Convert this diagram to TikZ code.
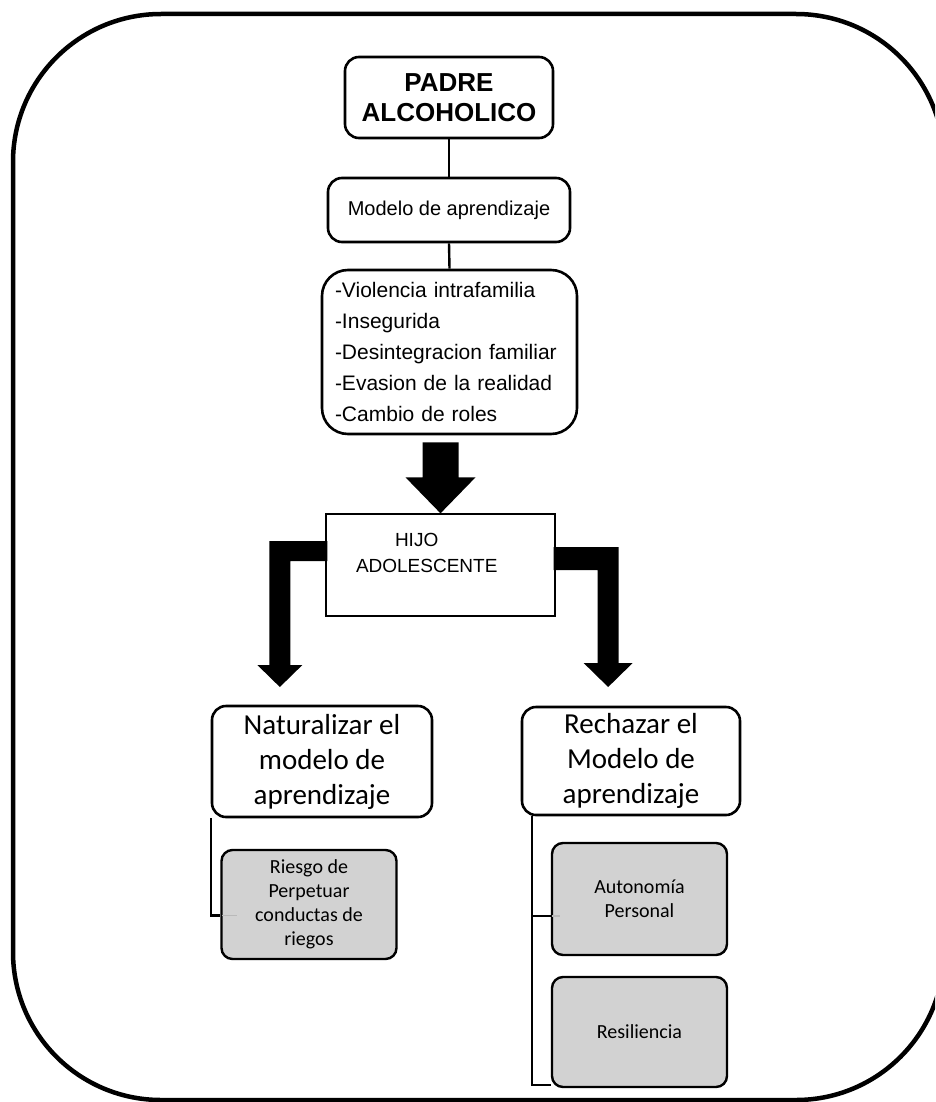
\documentclass[tikz,border=0pt]{standalone}
\usepackage{fontspec}
\setmainfont{Liberation Sans}
\newfontfamily\calibri{Carlito}
\usetikzlibrary{calc}
\begin{document}
\begin{tikzpicture}[x=1pt,y=-1pt,
  wbox/.style={draw, line width=2.6pt, rounded corners=14pt, fill=white, align=center, inner sep=0pt},
  gbox/.style={draw, line width=2.4pt, rounded corners=11pt, fill=gray!35, align=center, inner sep=0pt,
    minimum width=175pt, font=\calibri\fontsize{20}{24}\selectfont},
  conn/.style={line width=2.4pt},
  graylink/.style={line width=1.6pt, color=gray!55},
  blockarrow/.style={fill=black, draw=none}
]
\useasboundingbox (0,0) rectangle (935,1102);
\begin{scope}
  \clip (0,0) rectangle (935,1102);
  \draw[line width=4.5pt, rounded corners=148pt] (13,14) rectangle (944,1100);
\end{scope}

\node[wbox, minimum width=208pt, minimum height=81pt,
  font=\bfseries\fontsize{26}{30}\selectfont] (padre) at (449,97.5) {PADRE\\ALCOHOLICO};
\node[wbox, minimum width=242pt, minimum height=64pt,
  font=\fontsize{20}{24}\selectfont] (modelo) at (449,210) {Modelo de aprendizaje};
\node[wbox, rounded corners=26pt, minimum width=255pt, minimum height=164pt, align=left,
  text width=229pt, inner xsep=13pt, font=\fontsize{21}{31}\selectfont] (lista) at (449.5,352)
  {-Violencia intrafamilia\\-Insegurida\\-Desintegracion familiar\\-Evasion de la realidad\\-Cambio de roles};
\node[draw, line width=1.3pt, inner sep=0pt, minimum width=229pt, minimum height=102pt,
  font=\fontsize{19}{26}\selectfont] (hijo) at (440.5,565)
  {\parbox[c][102pt][t]{229pt}{\hspace*{69pt}\rule{0pt}{32pt}HIJO\\\hspace*{30pt}ADOLESCENTE}};
\node[wbox, minimum width=220pt, minimum height=111pt,
  font=\calibri\fontsize{29}{35}\selectfont] (natur) at (322,761.5) {Naturalizar el\\modelo de\\aprendizaje};
\node[wbox, minimum width=218pt, minimum height=108pt,
  font=\calibri\fontsize{29}{35}\selectfont] (rech) at (631,761) {Rechazar el\\Modelo de\\aprendizaje};
\node[gbox, minimum height=109pt] (riesgo) at (309,904.5) {Riesgo de\\Perpetuar\\conductas de\\riegos};
\node[gbox, minimum height=112pt] (auto) at (639.5,899) {Autonomía\\Personal};
\node[gbox, minimum height=110pt] (resil) at (639.5,1032) {Resiliencia};

% straight connectors
\draw[conn] (padre.south) -- (modelo.north);
\draw[conn] (modelo.south) -- (lista.north);

% big down arrow into HIJO
\fill[blockarrow] ($(hijo.north)+(-18,-71)$) -- ($(hijo.north)+(18,-71)$) -- ($(hijo.north)+(18,-36)$)
  -- ($(hijo.north)+(35,-36)$) -- (hijo.north) -- ($(hijo.north)+(-35,-36)$) -- ($(hijo.north)+(-18,-36)$) -- cycle;

% left elbow arrow
\fill[blockarrow] ($(hijo.west)+(2,-24)$) -- ($(hijo.west)+(-56,-24)$) -- ($(hijo.west)+(-56,100)$)
  -- ($(hijo.west)+(-68,100)$) -- ($(hijo.west)+(-45.5,122)$) -- ($(hijo.west)+(-23,100)$)
  -- ($(hijo.west)+(-35,100)$) -- ($(hijo.west)+(-35,-4)$) -- ($(hijo.west)+(2,-4)$) -- cycle;

% right elbow arrow
\fill[blockarrow] ($(hijo.east)+(-2,-18)$) -- ($(hijo.east)+(63,-18)$) -- ($(hijo.east)+(63,98)$)
  -- ($(hijo.east)+(77,98)$) -- ($(hijo.east)+(52.5,122)$) -- ($(hijo.east)+(28,98)$)
  -- ($(hijo.east)+(42,98)$) -- ($(hijo.east)+(42,5)$) -- ($(hijo.east)+(-2,5)$) -- cycle;

% left tree connector
\coordinate (lt) at ($(natur.south west)+(0,0)$);
\draw[conn] (lt) |- ($(riesgo.west)+(0,11)$);
\draw[graylink] ($(riesgo.west)+(1.5,11)$) -- ($(riesgo.west)+(17,11)$);

% right tree connector
\coordinate (rt) at ($(rech.south west)+(11,0)$);
\draw[conn] (rt) |- ($(auto.west)+(0,17)$);
\draw[conn] (rt) |- ($(resil.south west)+(0,-3)$);
\draw[graylink] ($(auto.west)+(1.5,17)$) -- ($(auto.west)+(9,17)$);
\end{tikzpicture}
\end{document}
